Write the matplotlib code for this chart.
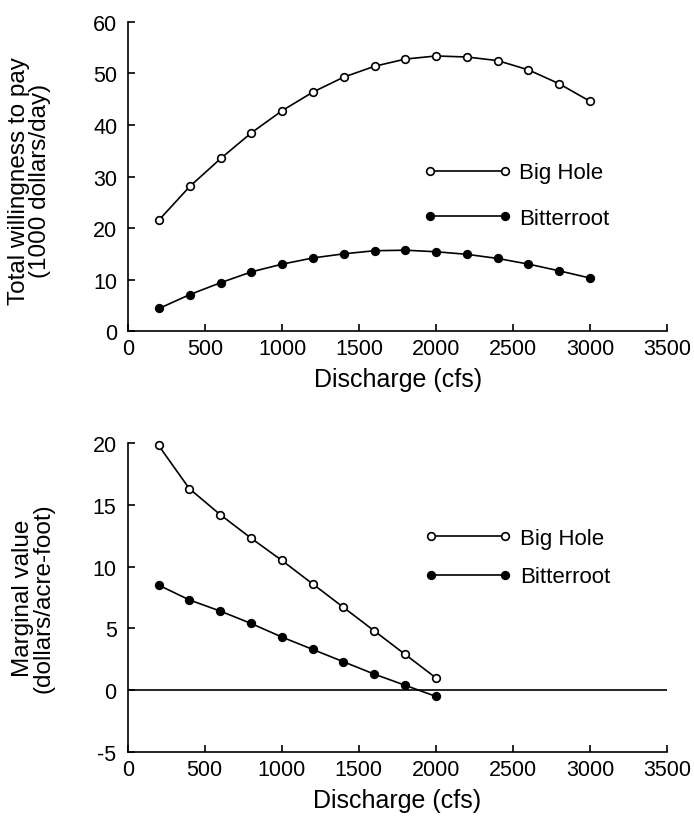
import matplotlib
matplotlib.use("Agg")
import matplotlib.pyplot as plt

plt.rcParams['font.family'] = ['Liberation Sans', 'DejaVu Sans']
plt.rcParams['axes.unicode_minus'] = False

# top panel: total willingness to pay (1000 dollars/day)
discharge_total = [200, 400, 600, 800, 1000, 1200, 1400, 1600, 1800, 2000,
                   2200, 2400, 2600, 2800, 3000]
big_hole_total = [21.6, 28.1, 33.5, 38.5, 42.8, 46.4, 49.3, 51.4, 52.8, 53.4,
                  53.2, 52.5, 50.7, 48.0, 44.6]
bitterroot_total = [4.4, 7.1, 9.4, 11.5, 13.0, 14.2, 15.0, 15.6, 15.7, 15.4,
                    14.9, 14.1, 13.0, 11.7, 10.3]

# bottom panel: marginal value (dollars/acre-foot)
discharge_marg = [200, 400, 600, 800, 1000, 1200, 1400, 1600, 1800, 2000]
big_hole_marg = [19.8, 16.3, 14.2, 12.3, 10.5, 8.6, 6.7, 4.8, 2.9, 1.0]
bitterroot_marg = [8.5, 7.3, 6.4, 5.4, 4.3, 3.3, 2.3, 1.3, 0.4, -0.5]

x_ticks = [0, 500, 1000, 1500, 2000, 2500, 3000, 3500]

fig = plt.figure(figsize=(6.94, 8.20), dpi=100)
ax1 = fig.add_axes([0.185, 0.595, 0.776, 0.377])
ax2 = fig.add_axes([0.184, 0.0817, 0.777, 0.377])

line_kw = dict(color='black', lw=1.2, markersize=5.5, markeredgewidth=1.2,
               clip_on=False, zorder=3)


def style_axes(ax):
    for side in ('top', 'right'):
        ax.spines[side].set_visible(False)
    for side in ('left', 'bottom'):
        ax.spines[side].set_linewidth(1.2)
    ax.tick_params(direction='in', length=5, width=1.2, labelsize=15.5)
    ax.tick_params(axis='x', pad=5)
    ax.tick_params(axis='y', pad=8)
    ax.set_xlim(0, 3500)
    ax.set_xticks(x_ticks)
    ax.set_xlabel('Discharge (cfs)', fontsize=18, labelpad=6)


def add_legend(ax, anchor, spacing):
    ax.legend(loc='upper left', bbox_to_anchor=anchor, frameon=False,
              numpoints=2, handlelength=3.95, handletextpad=0.35,
              labelspacing=spacing, fontsize=16, borderpad=0, borderaxespad=0)


# top panel
ax1.plot(discharge_total, big_hole_total, marker='o', markerfacecolor='white',
         label='Big Hole', **line_kw)
ax1.plot(discharge_total, bitterroot_total, marker='o', markerfacecolor='black',
         label='Bitterroot', **line_kw)
style_axes(ax1)
ax1.set_ylim(0, 60)
ax1.set_yticks(range(0, 61, 10))
ax1.set_ylabel('Total willingness to pay\n(1000 dollars/day)', fontsize=17.5,
               linespacing=0.95)
ax1.yaxis.set_label_coords(-0.143, 0.49)
add_legend(ax1, (0.548, 0.546), 1.1)

# bottom panel
ax2.axhline(0, color='black', lw=1.2)
ax2.plot(discharge_marg, big_hole_marg, marker='o', markerfacecolor='white',
         label='Big Hole', **line_kw)
ax2.plot(discharge_marg, bitterroot_marg, marker='o', markerfacecolor='black',
         label='Bitterroot', **line_kw)
style_axes(ax2)
ax2.set_ylim(-5, 20)
ax2.set_yticks(range(-5, 21, 5))
ax2.set_ylabel('Marginal value\n(dollars/acre-foot)', fontsize=17.5,
               linespacing=0.95)
ax2.yaxis.set_label_coords(-0.135, 0.5)
add_legend(ax2, (0.55, 0.726), 0.8)

fig.savefig('out.png', dpi=100)
